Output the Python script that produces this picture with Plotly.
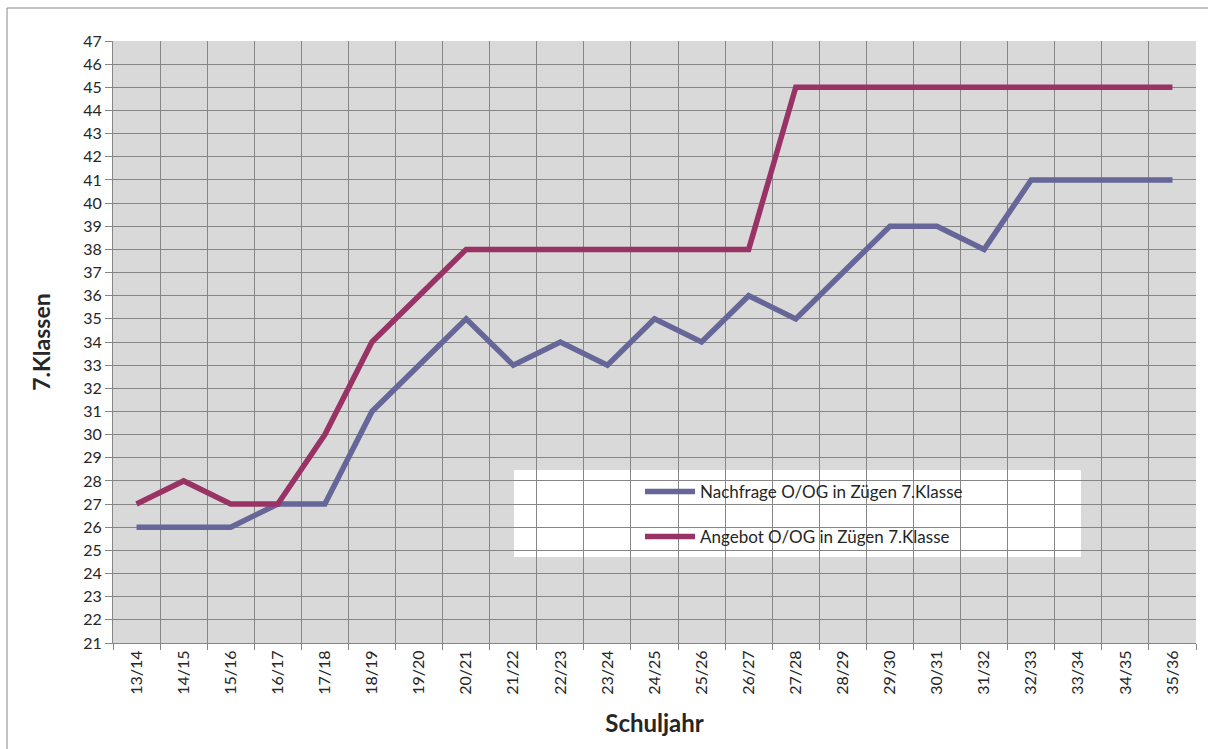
import plotly.graph_objects as go

years = ["13/14", "14/15", "15/16", "16/17", "17/18", "18/19", "19/20", "20/21",
         "21/22", "22/23", "23/24", "24/25", "25/26", "26/27", "27/28", "28/29",
         "29/30", "30/31", "31/32", "32/33", "33/34", "34/35", "35/36"]
nachfrage = [26, 26, 26, 27, 27, 31, 33, 35, 33, 34, 33, 35, 34, 36, 35, 37,
             39, 39, 38, 41, 41, 41, 41]
angebot = [27, 28, 27, 27, 30, 34, 36, 38, 38, 38, 38, 38, 38, 38, 45, 45,
           45, 45, 45, 45, 45, 45, 45]

W, H = 1208, 749
L, R, T, B = 113, 1196, 41, 643
pw, ph = R - L, B - T

def px(x):
    return (x - L) / pw

def py(y):
    return (B - y) / ph

FONT = "Lato"
fig = go.Figure()
fig.add_trace(go.Scatter(x=years, y=nachfrage, mode="lines",
                         name="Nachfrage O/OG in Zügen 7.Klasse",
                         line=dict(color="#666699", width=5.5), legend="legend"))
fig.add_trace(go.Scatter(x=years, y=angebot, mode="lines",
                         name="Angebot O/OG in Zügen 7.Klasse",
                         line=dict(color="#993366", width=5.5), legend="legend2"))

fig.update_layout(
    width=W, height=H,
    margin=dict(l=L, r=W - R, t=T, b=H - B),
    paper_bgcolor="white",
    plot_bgcolor="#D9D9D9",
    font=dict(family=FONT, color="#262626", size=16),
    showlegend=True,
    legend=dict(x=px(640), y=py(474), xanchor="left", yanchor="top", itemwidth=50,
                bgcolor="rgba(0,0,0,0)", font=dict(size=17, family=FONT)),
    legend2=dict(x=px(640), y=py(519), xanchor="left", yanchor="top", itemwidth=50,
                 bgcolor="rgba(0,0,0,0)", font=dict(size=17, family=FONT)),
    xaxis=dict(type="category", tickson="boundaries", tickangle=-90,
               showgrid=True, gridcolor="#868686", gridwidth=1,
               ticks="outside", ticklen=6, tickcolor="#868686",
               showline=True, linecolor="#868686", linewidth=1, mirror=False,
               tickfont=dict(size=16),
               title=dict(text="<b>Schuljahr</b>", font=dict(size=24), standoff=21),
               range=[-0.5, len(years) - 0.5], zeroline=False),
    yaxis=dict(range=[21, 47], dtick=1, tick0=21,
               showgrid=True, gridcolor="#868686", gridwidth=1,
               ticks="outside", ticklen=7, tickcolor="#868686",
               showline=True, linecolor="#868686", linewidth=1,
               tickfont=dict(size=16), zeroline=False,
               title=dict(text="<b>7.Klassen</b>", font=dict(size=23), standoff=26)),
    shapes=[
        dict(type="rect", xref="paper", yref="paper",
             x0=px(514), x1=px(1081), y0=py(557), y1=py(470),
             fillcolor="white", line=dict(width=0), layer="between"),
        dict(type="line", xref="paper", yref="paper",
             x0=px(7), x1=px(7), y0=py(8), y1=py(760),
             line=dict(color="#868686", width=1)),
        dict(type="line", xref="paper", yref="paper",
             x0=px(7), x1=px(1220), y0=py(8), y1=py(8),
             line=dict(color="#868686", width=1)),
    ],
)

fig.write_html("out.html", config={"displayModeBar": False},
               post_script="document.body.style.margin='0';document.body.style.overflow='hidden';")
